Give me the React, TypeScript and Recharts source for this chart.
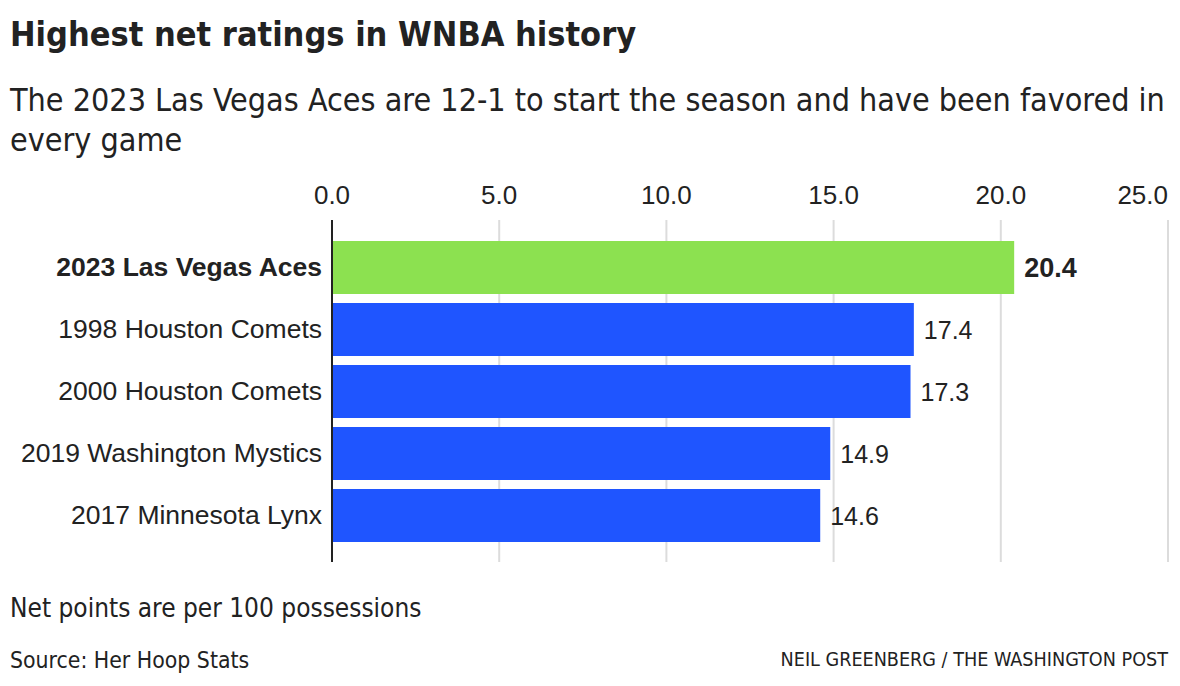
import React from "react";
import { BarChart, Bar, XAxis, YAxis, CartesianGrid, Cell, LabelList } from "recharts";

const teams = [
  "2023 Las Vegas Aces",
  "1998 Houston Comets",
  "2000 Houston Comets",
  "2019 Washington Mystics",
  "2017 Minnesota Lynx",
];
const netRatings = [20.4, 17.4, 17.3, 14.9, 14.6];
const xTicks = [0, 5, 10, 15, 20, 25];

const data = teams.map((name, i) => ({ name, value: netRatings[i] }));

const HIGHLIGHT = "#8ce150";
const BLUE = "#1f55ff";
const INK = "#222";
const condensed = '"DejaVu Sans Condensed", "Liberation Sans Narrow", Roboto, sans-serif';
const body = '"Liberation Sans", Arial, sans-serif';

const XTick = (props: any) => {
  const { x, payload } = props;
  const last = payload.value === 25;
  return (
    <text
      x={x}
      y={204}
      textAnchor={last ? "end" : "middle"}
      fontSize={26}
      fontFamily={body}
      fill={INK}
    >
      {Number(payload.value).toFixed(1)}
    </text>
  );
};

const YTick = (props: any) => {
  const { y, payload } = props;
  const first = payload.value === teams[0];
  return (
    <text
      x={322}
      y={y}
      dy={9}
      textAnchor="end"
      fontSize={26.5}
      fontFamily={body}
      fontWeight={first ? 700 : 400}
      fill={INK}
    >
      {payload.value}
    </text>
  );
};

const ValueLabel = (props: any) => {
  const { x, y, width, height, value, index } = props;
  return (
    <text
      x={x + width + 10}
      y={y + height / 2}
      dy={9}
      fontSize={index === 0 ? 27 : 25}
      fontFamily={body}
      fontWeight={index === 0 ? 700 : 400}
      fill={INK}
    >
      {Number(value).toFixed(1)}
    </text>
  );
};

export default function App() {
  return (
    <div
      style={{
        position: "absolute",
        left: 0,
        top: 0,
        width: 1180,
        height: 686,
        background: "#fff",
        color: INK,
        overflow: "hidden",
      }}
    >
      <div
        style={{
          position: "absolute",
          left: 10,
          top: 14,
          fontFamily: condensed,
          fontStretch: "condensed",
          fontWeight: 700,
          fontSize: 34,
          lineHeight: "40px",
        }}
      >
        Highest net ratings in WNBA history
      </div>
      <div
        style={{
          position: "absolute",
          left: 10,
          top: 80,
          width: 1168,
          fontFamily: condensed,
          fontStretch: "condensed",
          fontSize: 32,
          lineHeight: "40px",
        }}
      >
        The 2023 Las Vegas Aces are 12-1 to start the season and have been favored in every game
      </div>

      <div style={{ position: "absolute", left: 0, top: 0 }}>
        <BarChart
          width={1180}
          height={686}
          data={data}
          layout="vertical"
          margin={{ top: 180, right: 12, bottom: 124, left: 0 }}
        >
          <CartesianGrid horizontal={false} stroke="#dcdcdc" strokeWidth={2} />
          <XAxis
            type="number"
            orientation="top"
            domain={[0, 25]}
            ticks={xTicks}
            height={40}
            axisLine={false}
            tickLine={false}
            tick={<XTick />}
            interval={0}
          />
          <YAxis
            type="category"
            dataKey="name"
            width={332}
            padding={{ top: 16, bottom: 16 }}
            axisLine={{ stroke: "#222", strokeWidth: 2 }}
            tickLine={false}
            tick={<YTick />}
            interval={0}
          />
          <Bar dataKey="value" barSize={53} isAnimationActive={false}>
            {data.map((d, i) => (
              <Cell key={d.name} fill={i === 0 ? HIGHLIGHT : BLUE} />
            ))}
            <LabelList dataKey="value" content={<ValueLabel />} />
          </Bar>
        </BarChart>
      </div>

      <div
        style={{
          position: "absolute",
          left: 10,
          top: 593,
          fontFamily: condensed,
          fontStretch: "condensed",
          fontSize: 26,
          lineHeight: "30px",
        }}
      >
        Net points are per 100 possessions
      </div>
      <div
        style={{
          position: "absolute",
          left: 10,
          top: 646,
          fontFamily: condensed,
          fontStretch: "condensed",
          fontSize: 22.8,
          lineHeight: "28px",
        }}
      >
        Source: Her Hoop Stats
      </div>
      <div
        style={{
          position: "absolute",
          right: 12,
          top: 646,
          fontFamily: condensed,
          fontStretch: "condensed",
          fontSize: 19.6,
          lineHeight: "28px",
        }}
      >
        NEIL GREENBERG / THE WASHINGTON POST
      </div>
    </div>
  );
}
